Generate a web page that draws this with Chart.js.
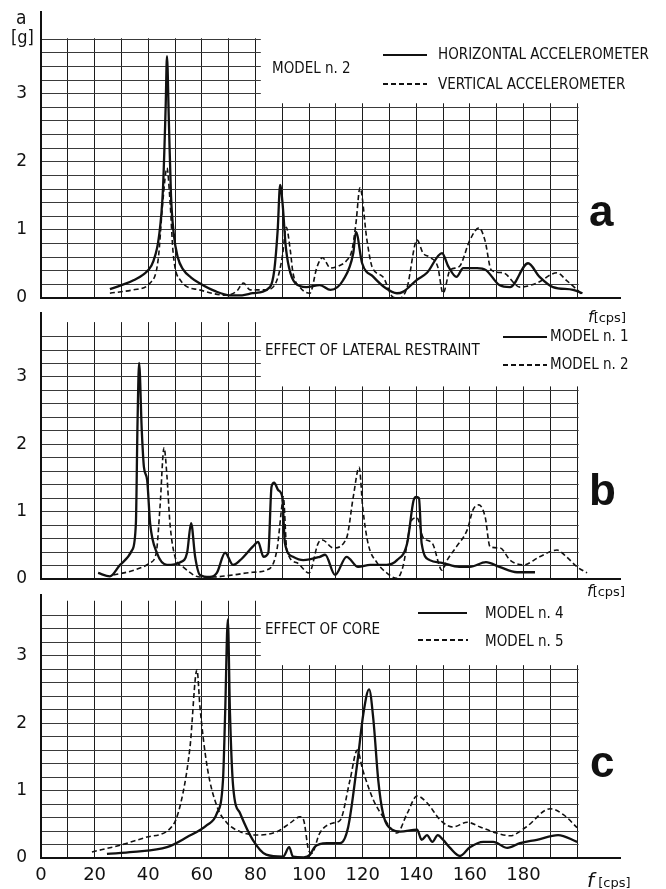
<!DOCTYPE html>
<html>
<head>
<meta charset="utf-8">
<script src="https://cdn.jsdelivr.net/npm/chart.js@4.4.1/dist/chart.umd.min.js"></script>
<style>
  body { margin:0; background:#fff; width:666px; height:889px; overflow:hidden; position:relative; }
  .pane { position:absolute; left:0; }
  .txt { position:absolute; font-family:"DejaVu Sans Condensed","DejaVu Sans",sans-serif; font-stretch:condensed; font-size:15px; line-height:1; color:#111; white-space:nowrap; }
  .big { position:absolute; font-family:"Liberation Sans",Arial,sans-serif; font-weight:bold; font-size:44px; line-height:1; color:#111; }
  .solid { position:absolute; height:0; border-top:2px solid #111; }
  .dash { position:absolute; height:2px; background:repeating-linear-gradient(90deg,#111 0 5px,transparent 5px 8px); }
  .unit { position:absolute; font-family:"DejaVu Sans",sans-serif; font-size:13px; line-height:1; color:#111; }
  .unit i { font-size:16px; }
</style>
</head>
<body>
<div class="pane" style="top:0"><canvas id="pa" width="666" height="310"></canvas></div>
<div class="pane" style="top:305px"><canvas id="pb" width="666" height="285"></canvas></div>
<div class="pane" style="top:580px"><canvas id="pc" width="666" height="309"></canvas></div>

<!-- axis title -->
<div class="txt" style="left:16px;top:8px;font-size:19px">a</div>
<div class="txt" style="left:11px;top:28px;font-size:18px">[g]</div>

<!-- panel a texts -->
<div class="txt" style="left:272px;top:61px">MODEL n. 2</div>
<div class="solid" style="left:383px;top:54px;width:44px"></div>
<div class="txt" style="left:438px;top:47px">HORIZONTAL ACCELEROMETER</div>
<div class="dash" style="left:383px;top:83px;width:44px"></div>
<div class="txt" style="left:438px;top:77px">VERTICAL ACCELEROMETER</div>
<div class="big" style="left:589px;top:189px">a</div>
<div class="unit" style="left:588px;top:309px"><i>f</i>[cps]</div>

<!-- panel b texts -->
<div class="txt" style="left:265px;top:343px">EFFECT OF LATERAL RESTRAINT</div>
<div class="solid" style="left:503px;top:336px;width:44px"></div>
<div class="txt" style="left:550px;top:329px">MODEL n. 1</div>
<div class="dash" style="left:503px;top:364px;width:44px"></div>
<div class="txt" style="left:550px;top:357px">MODEL n. 2</div>
<div class="big" style="left:589px;top:468px">b</div>
<div class="unit" style="left:587px;top:583px"><i>f</i>[cps]</div>

<!-- panel c texts -->
<div class="txt" style="left:265px;top:622px">EFFECT OF CORE</div>
<div class="solid" style="left:418px;top:612px;width:49px"></div>
<div class="txt" style="left:485px;top:606px">MODEL n. 4</div>
<div class="dash" style="left:418px;top:639px;width:50px"></div>
<div class="txt" style="left:485px;top:634px">MODEL n. 5</div>
<div class="big" style="left:590px;top:740px">c</div>
<div class="unit" style="left:587px;top:870px"><i style="font-size:20px">f</i> [cps]</div>

<script>
// panel a - model n.2
const aHorF = [25.7, 30, 34.5, 40, 42, 44, 45.5, 46.5, 47, 47.7, 48.5, 49.5, 51, 53, 56, 59, 65, 70.5, 75, 79, 85.4, 87, 88.3, 89.2, 90.2, 91.2, 92.5, 94.8, 99, 104, 108, 112.7, 116.5, 117.5, 119.8, 124, 128.4, 132.8, 135, 140, 144, 149.6, 152, 155, 157.5, 162.7, 166, 171, 175, 181.7, 186, 191, 198.5, 202];
const aHorG = [0.13, 0.19, 0.26, 0.41, 0.55, 0.9, 1.6, 2.8, 3.55, 2.6, 1.5, 0.95, 0.6, 0.42, 0.3, 0.22, 0.1, 0.04, 0.04, 0.07, 0.16, 0.4, 1.0, 1.66, 1.35, 0.8, 0.45, 0.22, 0.16, 0.19, 0.12, 0.26, 0.66, 0.97, 0.51, 0.31, 0.15, 0.07, 0.09, 0.26, 0.37, 0.66, 0.46, 0.31, 0.44, 0.44, 0.41, 0.19, 0.16, 0.51, 0.31, 0.16, 0.12, 0.07];
const aVerF = [25.7, 34.5, 40.7, 43.7, 45.5, 47, 48.1, 49.3, 52, 59, 69, 73, 75.5, 78, 84, 88, 90, 91.5, 93, 94, 96.6, 100.3, 103, 105, 108, 111, 114, 116, 117.5, 119, 121.6, 123.5, 127.6, 131.4, 134, 136.6, 140.3, 142.5, 145, 148, 150, 152.6, 156, 160, 163.4, 165.6, 168, 172.4, 178.7, 185, 192.5, 196, 200, 202];
const aVerG = [0.07, 0.12, 0.22, 0.56, 1.44, 1.91, 1.44, 0.66, 0.26, 0.12, 0.04, 0.1, 0.22, 0.12, 0.12, 0.26, 0.6, 1.04, 0.7, 0.37, 0.16, 0.07, 0.46, 0.59, 0.44, 0.47, 0.55, 0.7, 1.1, 1.62, 0.85, 0.46, 0.31, 0.01, 0, 0.16, 0.85, 0.66, 0.6, 0.46, 0.07, 0.41, 0.46, 0.85, 1.03, 0.85, 0.41, 0.37, 0.16, 0.22, 0.37, 0.26, 0.12, 0.04];

// panel b - effect of lateral restraint
const bM1F = [21.3, 25.7, 29.5, 34, 35.4, 36, 36.6, 37.6, 38.4, 39.6, 40.7, 43.2, 47, 52, 54.5, 56, 57.5, 59.3, 63, 65.6, 68.7, 71.6, 74.3, 79, 81, 83, 84.8, 86, 87, 88.5, 90, 91, 94, 97.8, 104, 106, 109.7, 114, 118.3, 122.8, 129, 132.8, 136.6, 139, 140, 141, 142, 145, 149.6, 156, 160, 166, 171, 177.6, 184.3];
const bM1G = [0.09, 0.04, 0.21, 0.43, 0.83, 2.3, 3.21, 2.2, 1.66, 1.47, 0.83, 0.39, 0.21, 0.25, 0.39, 0.83, 0.33, 0.06, 0.03, 0.09, 0.39, 0.21, 0.28, 0.48, 0.55, 0.33, 0.39, 1.37, 1.43, 1.32, 1.22, 0.53, 0.33, 0.28, 0.33, 0.36, 0.06, 0.33, 0.18, 0.21, 0.21, 0.28, 0.53, 1.17, 1.22, 1.2, 0.53, 0.28, 0.24, 0.18, 0.18, 0.25, 0.18, 0.1, 0.1];
const bM2F = [27, 34.6, 40.7, 43, 44.4, 45.9, 47, 48.1, 50, 53, 59.3, 64, 71.7, 79, 84, 88, 90, 90.4, 91.7, 95.5, 100, 103.4, 105, 109, 114, 116.5, 118.7, 120, 122, 125.4, 129, 132.8, 135, 138.4, 140.3, 142.5, 146, 149.6, 151.5, 155, 159, 161.2, 163.4, 165.7, 167.5, 171.3, 175, 180, 186, 192.5, 196, 200, 203.7];
const bM2G = [0.06, 0.13, 0.24, 0.39, 1.07, 1.95, 1.52, 0.83, 0.33, 0.18, 0.03, 0.03, 0.06, 0.1, 0.13, 0.43, 1.13, 1.22, 0.43, 0.24, 0.09, 0.53, 0.58, 0.46, 0.61, 1.22, 1.66, 1.07, 0.53, 0.24, 0.09, 0.01, 0.18, 0.88, 0.91, 0.62, 0.53, 0.13, 0.28, 0.48, 0.73, 1.03, 1.1, 0.92, 0.48, 0.46, 0.28, 0.21, 0.33, 0.43, 0.33, 0.18, 0.09];

// panel c - effect of core
const cM4F = [24.6, 34.4, 47, 54.5, 62, 65.6, 67.9, 68.7, 69.7, 70.5, 71.7, 74.3, 79, 84, 90.3, 92.6, 94, 98, 100.4, 102, 106.7, 111.6, 114.6, 118, 120.3, 122.4, 124, 125.8, 127.6, 131, 134, 140.3, 142, 144, 146, 148, 150, 152.6, 156.3, 160, 165, 168.7, 174, 178.7, 185, 192.9, 200];
const cM4G = [0.06, 0.09, 0.16, 0.31, 0.49, 0.66, 1.16, 2.15, 3.54, 2.15, 1.05, 0.66, 0.27, 0.05, 0.02, 0.16, 0.02, 0.01, 0.05, 0.16, 0.22, 0.22, 0.46, 1.41, 2.15, 2.5, 2.05, 1.16, 0.66, 0.42, 0.39, 0.42, 0.27, 0.34, 0.24, 0.34, 0.27, 0.15, 0.03, 0.16, 0.24, 0.24, 0.15, 0.22, 0.27, 0.34, 0.24];
const cM5F = [19, 29.5, 39.5, 49.3, 53, 55.6, 58.2, 59.3, 62, 65.7, 69.4, 74.3, 80.6, 88, 93, 96.6, 98, 99.8, 101, 104, 109, 111.6, 115.3, 118, 120, 124, 127.6, 131, 132.8, 136.6, 140.3, 144, 149, 153.7, 159, 163.8, 170, 175, 181, 190, 195, 200];
const cM5G = [0.09, 0.19, 0.31, 0.49, 0.97, 1.65, 2.79, 2.24, 1.35, 0.76, 0.52, 0.39, 0.34, 0.39, 0.52, 0.61, 0.56, 0.12, 0.07, 0.37, 0.52, 0.56, 1.16, 1.6, 1.31, 0.86, 0.61, 0.42, 0.37, 0.66, 0.92, 0.82, 0.56, 0.46, 0.53, 0.46, 0.37, 0.33, 0.46, 0.73, 0.64, 0.45];

const xLabels = [0, 20, 40, 60, 80, 100, 120, 140, 160, 180];
const yLabels = [0, 1, 2, 3];

function toPts(f, g) {
  return f.map((v, i) => ({ x: v, y: g[i] }));
}

// blank out the paper where the text sits, and the grid past 200 / above 3.8
const blankGrid = {
  id: 'blankGrid',
  beforeDatasetsDraw(chart) {
    const { ctx, scales: { x, y } } = chart;
    ctx.save();
    ctx.fillStyle = '#fff';
    const x0 = x.getPixelForValue(0) + 1.5;
    const top = y.top - 2;
    ctx.fillRect(x0, top, x.right - x0 + 2, y.getPixelForValue(3.8) - 1 - top);
    const x82 = x.getPixelForValue(82);
    ctx.fillRect(x82, top, x.right - x82 + 2, y.getPixelForValue(2.86) - top);
    const x200 = x.getPixelForValue(200) + 1.5;
    ctx.fillRect(x200, top, x.right - x200 + 2, y.getPixelForValue(0) - 1.5 - top);
    ctx.restore();
  }
};

function panel(id, solidF, solidG, dashF, dashG, yMax, padTop, xHeight, showX) {
  const ctx = document.getElementById(id);
  return new Chart(ctx, {
    type: 'line',
    data: {
      datasets: [
        { data: toPts(solidF, solidG), borderColor: '#111', borderWidth: 2.3, pointRadius: 0, fill: false, cubicInterpolationMode: 'monotone' },
        { data: toPts(dashF, dashG), borderColor: '#111', borderWidth: 1.6, borderDash: [5, 3], pointRadius: 0, fill: false, cubicInterpolationMode: 'monotone' }
      ]
    },
    options: {
      responsive: false,
      animation: false,
      layout: { padding: { top: padTop, right: 46, left: 0, bottom: 0 } },
      plugins: { legend: { display: false }, tooltip: { enabled: false } },
      scales: {
        x: {
          type: 'linear', min: 0, max: 216,
          afterFit: s => { s.height = xHeight; s.paddingLeft = 0; s.paddingRight = 0; },
          ticks: {
            stepSize: 10, display: showX, autoSkip: false, maxRotation: 0, padding: 7,
            callback: v => xLabels.includes(v) ? String(v) : '',
            font: { family: 'DejaVu Sans', size: 18 }, color: '#111'
          },
          grid: { color: c => (c.tick && c.tick.value > 200.5) ? 'rgba(0,0,0,0)' : '#1c1c1c', lineWidth: 1, drawTicks: false },
          border: { color: '#111', width: 2 }
        },
        y: {
          min: 0, max: yMax,
          afterFit: s => { s.width = 41; s.paddingTop = 0; s.paddingBottom = 0; },
          ticks: {
            stepSize: 0.2, autoSkip: false, padding: 14,
            callback: v => {
              const r = Math.round(v);
              return (Math.abs(v - r) < 1e-6 && yLabels.includes(r)) ? String(r) : '';
            },
            font: { family: 'DejaVu Sans', size: 17 }, color: '#111'
          },
          grid: { color: c => (c.tick && c.tick.value > 3.81) ? 'rgba(0,0,0,0)' : '#3a3a3a', lineWidth: 1, drawTicks: false },
          border: { color: '#111', width: 2 }
        }
      }
    },
    plugins: [blankGrid]
  });
}

panel('pa', aHorF, aHorG, aVerF, aVerG, 4.2, 12, 12, false);
panel('pb', bM1F, bM1G, bM2F, bM2G, 3.95, 8, 11, false);
panel('pc', cM4F, cM4G, cM5F, cM5G, 3.9, 15, 31, true);
</script>
</body>
</html>
